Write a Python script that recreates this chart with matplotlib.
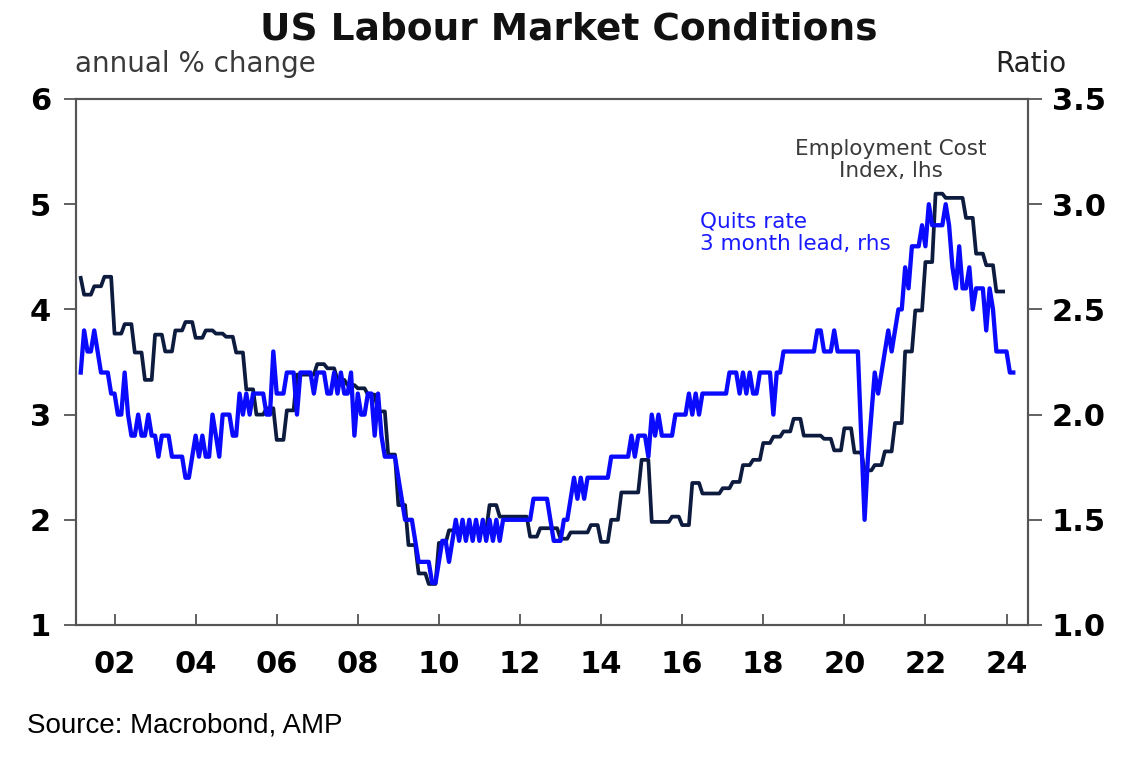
import numpy as np
import matplotlib.pyplot as plt

# Employment Cost Index, annual % change, quarterly from Q1 2001 (lhs)
eci_q = [4.30, 4.14, 4.22, 4.31,
         3.77, 3.86, 3.59, 3.33,
         3.76, 3.60, 3.80, 3.88,
         3.73, 3.80, 3.77, 3.74,
         3.59, 3.24, 3.00, 3.06,
         2.76, 3.04, 3.38, 3.38,
         3.48, 3.44, 3.33, 3.28,
         3.25, 3.19, 3.03, 2.62,
         2.14, 1.76, 1.49, 1.39,
         1.78, 1.90, 1.90, 1.90,
         1.90, 2.14, 2.03, 2.03,
         2.03, 1.84, 1.92, 1.92,
         1.82, 1.88, 1.88, 1.95,
         1.79, 2.00, 2.26, 2.26,
         2.57, 1.98, 1.98, 2.03,
         1.95, 2.35, 2.25, 2.25,
         2.30, 2.36, 2.52, 2.57,
         2.73, 2.79, 2.84, 2.96,
         2.80, 2.80, 2.77, 2.66,
         2.87, 2.64, 2.47, 2.52,
         2.65, 2.92, 3.60, 3.99,
         4.45, 5.10, 5.06, 5.06,
         4.87, 4.53, 4.42, 4.17]

# Quits rate, 3 month lead, monthly from Mar 2001 (rhs)
quits = [2.2, 2.4, 2.3, 2.3, 2.4, 2.3, 2.2, 2.2, 2.2, 2.1,
         2.1, 2.0, 2.0, 2.2, 2.0, 1.9, 1.9, 2.0, 1.9, 1.9, 2.0, 1.9,
         1.9, 1.8, 1.9, 1.9, 1.9, 1.8, 1.8, 1.8, 1.8, 1.7, 1.7, 1.8,
         1.9, 1.8, 1.9, 1.8, 1.8, 2.0, 1.9, 1.8, 2.0, 2.0, 2.0, 1.9,
         1.9, 2.1, 2.0, 2.1, 2.0, 2.1, 2.1, 2.1, 2.1, 2.0, 2.0, 2.3,
         2.1, 2.1, 2.1, 2.2, 2.2, 2.2, 2.0, 2.2, 2.2, 2.2, 2.2, 2.1,
         2.2, 2.2, 2.2, 2.1, 2.1, 2.2, 2.1, 2.2, 2.1, 2.1, 2.2, 1.9,
         2.1, 2.0, 2.0, 2.1, 2.1, 1.9, 2.1, 1.9, 1.8, 1.8, 1.8, 1.8,
         1.7, 1.6, 1.5, 1.5, 1.5, 1.4, 1.3, 1.3, 1.3, 1.3, 1.2, 1.2,
         1.3, 1.4, 1.4, 1.3, 1.4, 1.5, 1.4, 1.5, 1.4, 1.5, 1.4, 1.5,
         1.4, 1.5, 1.4, 1.5, 1.4, 1.5, 1.4, 1.5, 1.5, 1.5, 1.5, 1.5,
         1.5, 1.5, 1.5, 1.5, 1.6, 1.6, 1.6, 1.6, 1.6, 1.5, 1.4, 1.4,
         1.4, 1.5, 1.5, 1.6, 1.7, 1.6, 1.7, 1.6, 1.7, 1.7, 1.7, 1.7,
         1.7, 1.7, 1.7, 1.8, 1.8, 1.8, 1.8, 1.8, 1.8, 1.9, 1.8, 1.9,
         1.9, 1.9, 1.8, 2.0, 1.9, 2.0, 1.9, 1.9, 1.9, 1.9, 2.0, 2.0,
         2.0, 2.0, 2.1, 2.0, 2.1, 2.0, 2.1, 2.1, 2.1, 2.1, 2.1, 2.1,
         2.1, 2.1, 2.2, 2.2, 2.2, 2.1, 2.2, 2.1, 2.2, 2.1, 2.1, 2.2,
         2.2, 2.2, 2.2, 2.0, 2.2, 2.2, 2.3, 2.3, 2.3, 2.3, 2.3, 2.3,
         2.3, 2.3, 2.3, 2.3, 2.4, 2.4, 2.3, 2.3, 2.3, 2.4, 2.3, 2.3,
         2.3, 2.3, 2.3, 2.3, 2.3, 1.9, 1.5, 1.8, 2.0, 2.2, 2.1, 2.2,
         2.3, 2.4, 2.3, 2.4, 2.5, 2.5, 2.7, 2.6, 2.8, 2.8, 2.8, 2.9,
         2.8, 3.0, 2.9, 2.9, 2.9, 2.9, 3.0, 2.9, 2.7, 2.6, 2.8, 2.6,
         2.6, 2.7, 2.5, 2.6, 2.6, 2.6, 2.4, 2.6, 2.5, 2.3, 2.3, 2.3,
         2.3, 2.2, 2.2]

first_month = 2  # Mar 2001, months counted from Jan 2001

year_ticks = list(range(2002, 2025, 2))
year_labels = [f'{y % 100:02d}' for y in year_ticks]
lhs_ticks = [1, 2, 3, 4, 5, 6]
rhs_ticks = [1.0, 1.5, 2.0, 2.5, 3.0, 3.5]

# quarterly ECI shown as a monthly step series
eci_m = np.repeat(eci_q, 3)[first_month:]
eci_x = 2001 + (np.arange(len(eci_m)) + first_month) / 12
quits_x = 2001 + (np.arange(len(quits)) + first_month) / 12

W, H = 1138, 760
fig = plt.figure(figsize=(W / 100, H / 100), dpi=100)
ax = fig.add_axes([76 / W, 1 - 625 / H, (1028 - 76) / W, (625 - 99) / H])
ax2 = ax.twinx()

ax.plot(eci_x, eci_m, color='#0d1b3e', lw=2.7, solid_joinstyle='round')
ax2.plot(quits_x, quits, color='#0a0aff', lw=3.1, solid_joinstyle='round')

ax.set_xlim(2001.05, 2024.53)
ax.set_ylim(1, 6)
ax2.set_ylim(1.0, 3.5)

spine_col = '#555555'
for a in (ax, ax2):
    for s in a.spines.values():
        s.set_color(spine_col)
        s.set_linewidth(1.5)

ax.set_xticks(year_ticks)
ax.set_xticklabels(year_labels, fontweight='bold', fontsize=22)
ax.set_yticks(lhs_ticks)
ax.set_yticklabels([str(t) for t in lhs_ticks], fontweight='bold', fontsize=22)
ax2.set_yticks(rhs_ticks)
ax2.set_yticklabels([f'{t:.1f}' for t in rhs_ticks], fontweight='bold', fontsize=22)

ax.tick_params(axis='x', direction='in', length=8, width=1.3, color=spine_col, pad=18)
ax.tick_params(axis='y', direction='out', length=9, width=1.3, color=spine_col, pad=9)
ax2.tick_params(axis='y', direction='out', length=10, width=1.3, color=spine_col, pad=7)


def px(x, y):
    return x / W, 1 - y / H


fig.text(*px(569, 39), 'US Labour Market Conditions', ha='center', va='baseline',
         fontsize=27, fontweight='bold', color='#111111')
fig.text(*px(75, 72), 'annual % change', ha='left', va='baseline',
         fontsize=20, color='#3a3a3a')
fig.text(*px(1066, 72), 'Ratio', ha='right', va='baseline',
         fontsize=20, color='#222222')

fig.text(*px(891, 155), 'Employment Cost', ha='center', va='baseline',
         fontsize=15.5, color='#3a3a3a')
fig.text(*px(891, 177), 'Index, lhs', ha='center', va='baseline',
         fontsize=15.5, color='#3a3a3a')
fig.text(*px(700, 227), 'Quits rate', ha='left', va='baseline',
         fontsize=15.5, color='#1a1aff')
fig.text(*px(700, 250), '3 month lead, rhs', ha='left', va='baseline',
         fontsize=15.5, color='#1a1aff')

fig.text(*px(27, 732), 'Source: Macrobond, AMP', ha='left', va='baseline',
         fontsize=20, family=['Liberation Sans', 'DejaVu Sans'], color='black')

fig.savefig('out.png', dpi=100)
